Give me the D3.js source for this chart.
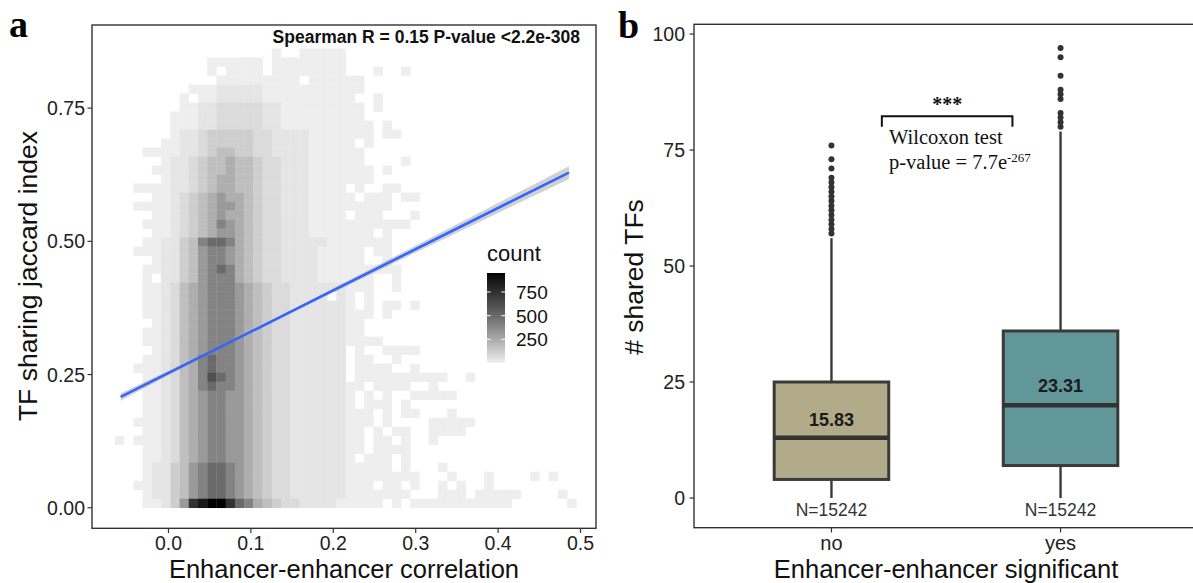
<!DOCTYPE html>
<html><head><meta charset="utf-8">
<script src="https://cdn.jsdelivr.net/npm/d3@7"></script>
<style>body{margin:0;background:#fff} svg{display:block}</style>
</head><body><svg id="c" width="1193" height="583"></svg>
<script>
// ---------- Panel a data: 2D bin counts (rows top -> bottom, 50 columns each) ----------
const countLevels = {".":0,"0":8,"1":38,"2":75,"3":120,"4":175,"5":240,"6":315,"7":400,"8":500,"9":610,"a":740,"b":860,"c":950};
const binRows = [
".......... .......0.. 00000..... .......... ..........",
".......... 000000.000 00000..... .......... ..........",
".......... 0.0000.000 00000...0. .0........ ..........",
".......... .000000000 .000000... .......... ..........",
"........00 0111110000 0000000... .......... ..........",
".......0.0 0111110000 000000..0. .......... ..........",
".......001 1222221100 0000000.0. .......... ..........",
"......0001 1222221100 0000000... .......... ..........",
"......0001 1222221100 00000000.0 .......... ..........",
"......0112 3333322111 10000000.0 0......... ..........",
".....00112 3333322111 100000.0.. .......... ..........",
"...0000112 3443322111 1000000... .......... ..........",
".....01123 4454432211 1000000... .0........ ..........",
"....001123 4454432211 10000000.0 .......... ..........",
".....01123 4554432211 10000000.. .......... ..........",
"..00001123 4554432211 10000.0..0 0......... ..........",
"....001234 5655432211 100000.000 .00....... ..........",
"..00001234 5665432211 1000000000 .......... ..........",
"....001234 5655432211 10000.000. ..0....... ..........",
"...0001234 5765432211 1000000000 00........ ..........",
"....001234 5665432211 10000000.0 .......... ..........",
"...0011347 8875432211 1110000000 .......... ..........",
"..00011346 7765432211 1100000.00 .......... ..........",
"....011346 7765432211 1100000..0 .......... ..........",
"...0011346 7875432211 1100000000 0......... ..........",
"...0.11346 7775432211 11000000.. 0......... ..........",
"...0012456 7776543221 11111000.. 0......... ..........",
"...0012456 7776543221 111.10.0.. .......... ..........",
"...0012456 7776543221 111110.0.0 0.0....... ..........",
"...0012456 7776543221 11111000.0 .......... ..........",
"....012456 7776543221 1111100... .......... ..........",
"...0012456 7776543221 1111100... .......... ..........",
"...0012456 7776543221 111110000. .......... ..........",
"....012456 7776543221 11111.0..0 000....... ..........",
"...0012457 8776543221 11111.00.. 0......... ..........",
"..00012457 8776543221 11111.0000 ..0....... ..........",
"...0012457 9876543221 11111.0000 000000..0. ..........",
"...0012457 8776543221 1111100.00 00..0..... ..........",
"...0012456 7766543221 111110.0.0 ..00000... ..........",
"...0012456 7766543221 111110.000 .0........ ..........",
"...0012456 7766543221 11111000.0 .00...0... ..........",
"..00012456 7766543221 11111000.0 ....00000. ..........",
"...0012456 7766543221 1111100.0. 00..0000.. ..........",
"0.00012456 7766543221 1111100.00 .0..0..... ..........",
"...0012456 7766543221 1111100.00 00........ ..........",
"...0012456 7766543221 111110.000 .0........ ..........",
"...0113467 8876543221 1111100000 .0...0.... ..........",
"...0113467 8876543221 1111100000 000...0... 0....0.0..",
"..00113467 8876543221 11111000.0 0.0..0.0.. 0.........",
"...0113467 8876543221 1111100000 00...000.0 0000....0.",
"...00136ab cca8754322 111100000. 0.00000000 000......0"
];
const binX0 = -0.065, binW = 0.0112, binY0 = 0, binH = 0.0169;
const countMin = 1, countMax = 950;
const legendTicks = [250, 500, 750];
const xTicksA = [0, 0.1, 0.2, 0.3, 0.4, 0.5];
const yTicksA = [0, 0.25, 0.5, 0.75];
// fitted line (lm) with its confidence band
const smoothX  = [-0.058, 0.07, 0.2, 0.35, 0.486];
const smoothY  = [0.208, 0.307, 0.408, 0.524, 0.629];
const smoothSE = [0.007, 0.002, 0.004, 0.008, 0.012];
const statText = "Spearman R = 0.15 P-value <2.2e-308";

// ---------- Panel b data ----------
const groups = ["no", "yes"];
const q1 = [4, 7], median = [13, 20], q3 = [25, 36];
const whiskLo = [0, 0], whiskHi = [56, 79];
const means = [15.83, 23.31];
const nLabels = ["N=15242", "N=15242"];
const outliersNo = [57,58,59,60,61,62,63,64,65,66,67,68,69,71,73,76];
const outliersYes = [80,81,82,83,86,87,88,91,95,97];
const boxFill = ["#b1ab89", "#629799"];
const yTicksB = [0, 25, 50, 75, 100];
const bracket = {x1: 1.22, x2: 1.79, y: 82.3, yEnd: 80};

// ---------- drawing ----------
const svg = d3.select("#c");
const SANS = "'Liberation Sans', Arial, sans-serif";
const SERIF = "'Liberation Serif', 'Times New Roman', serif";
const axisCol = "#333333";
const TICK_FS = "19.5px", TITLE_FS = "25.5px";
const TICK_BASE = 549.5, TITLE_BASE = 577.5;

// Panel a scales
const xA = d3.scaleLinear().domain([-0.0928, 0.5188]).range([92, 596]);
const yA = d3.scaleLinear().domain([-0.0386, 0.906]).range([528.3, 25]);
const fillScale = d3.scaleLinear().domain([countMin, countMax]).range(["#f0f0f0", "#000000"]).interpolate(d3.interpolateLab).clamp(true);

const cells = [];
binRows.forEach((row, ri) => {
  const s = row.replace(/ /g, "");
  const j = binRows.length - 1 - ri;
  for (let i = 0; i < s.length; i++) {
    const c = countLevels[s[i]];
    if (c > 0) cells.push({i, j, c});
  }
});
const gA = svg.append("g");
gA.selectAll("rect.bin").data(cells).join("rect")
  .attr("x", d => xA(binX0 + d.i * binW))
  .attr("y", d => yA(binY0 + (d.j + 1) * binH))
  .attr("width", d => xA(binX0 + (d.i + 1) * binW) - xA(binX0 + d.i * binW) + 0.3)
  .attr("height", d => yA(binY0 + d.j * binH) - yA(binY0 + (d.j + 1) * binH) + 0.3)
  .attr("fill", d => fillScale(d.c));

const sm = smoothX.map((x, k) => ({x, y: smoothY[k], se: smoothSE[k]}));
gA.append("path").datum(sm)
  .attr("d", d3.area().x(d => xA(d.x)).y0(d => yA(d.y - d.se)).y1(d => yA(d.y + d.se)).curve(d3.curveNatural))
  .attr("fill", "#999999").attr("opacity", 0.45);
gA.append("path").datum(sm)
  .attr("d", d3.line().x(d => xA(d.x)).y(d => yA(d.y)))
  .attr("fill", "none").attr("stroke", "#3366ff").attr("stroke-width", 2.6);

// frame
gA.append("rect").attr("x", 92).attr("y", 25).attr("width", 504).attr("height", 503.3)
  .attr("fill", "none").attr("stroke", axisCol).attr("stroke-width", 1.4);

// axes a
const axA = svg.append("g").attr("font-family", SANS).attr("fill", "#222");
xTicksA.forEach(t => {
  axA.append("line").attr("x1", xA(t)).attr("x2", xA(t)).attr("y1", 528.3).attr("y2", 533).attr("stroke", axisCol).attr("stroke-width", 1.2);
  axA.append("text").attr("x", xA(t)).attr("y", TICK_BASE).attr("text-anchor", "middle").attr("font-size", TICK_FS).attr("fill", "#222").text(d3.format(".1f")(t));
});
yTicksA.forEach(t => {
  axA.append("line").attr("x1", 87.5).attr("x2", 92).attr("y1", yA(t)).attr("y2", yA(t)).attr("stroke", axisCol).attr("stroke-width", 1.2);
  axA.append("text").attr("x", 85).attr("y", yA(t)).attr("dy", "0.36em").attr("text-anchor", "end").attr("font-size", TICK_FS).attr("fill", "#222").text(d3.format(".2f")(t));
});
axA.append("text").attr("x", 344).attr("y", TITLE_BASE).attr("text-anchor", "middle").attr("font-size", TITLE_FS).attr("fill", "#111").text("Enhancer-enhancer correlation");
axA.append("text").attr("transform", "translate(37,276) rotate(-90)").attr("text-anchor", "middle").attr("font-size", "26.5px").attr("fill", "#111").text("TF sharing jaccard index");
svg.append("text").attr("x", 580).attr("y", 43.3).attr("text-anchor", "end").attr("font-family", SANS).attr("font-weight", "bold").attr("font-size", "17.5px").attr("fill", "#111").text(statText);

// legend
const legY = d3.scaleLinear().domain([countMin, countMax]).range([363, 273]);
const defs = svg.append("defs");
const grad = defs.append("linearGradient").attr("id", "lg").attr("x1", 0).attr("y1", 1).attr("x2", 0).attr("y2", 0);
d3.range(0, 1.0001, 0.1).forEach(t => grad.append("stop").attr("offset", t).attr("stop-color", fillScale(countMin + t * (countMax - countMin))));
svg.append("rect").attr("x", 487).attr("y", legY(countMax)).attr("width", 18).attr("height", legY(countMin) - legY(countMax)).attr("fill", "url(#lg)");
legendTicks.forEach(t => {
  svg.append("line").attr("x1", 487).attr("x2", 490.6).attr("y1", legY(t)).attr("y2", legY(t)).attr("stroke", "#fff").attr("stroke-width", 1);
  svg.append("line").attr("x1", 501.4).attr("x2", 505).attr("y1", legY(t)).attr("y2", legY(t)).attr("stroke", "#fff").attr("stroke-width", 1);
  svg.append("text").attr("x", 516).attr("y", legY(t)).attr("dy", "0.36em").attr("font-family", SANS).attr("font-size", "19px").attr("fill", "#111").text(t);
});
svg.append("text").attr("x", 487).attr("y", 261).attr("font-family", SANS).attr("font-size", "22px").attr("fill", "#111").text("count");

// panel letters
svg.append("text").attr("x", 9).attr("y", 37).attr("font-family", SERIF).attr("font-weight", "bold").attr("font-size", "38px").attr("fill", "#000").text("a");
svg.append("text").attr("x", 618).attr("y", 38).attr("font-family", SERIF).attr("font-weight", "bold").attr("font-size", "38px").attr("fill", "#000").text("b");

// ---------- Panel b ----------
const xB = d3.scaleLinear().domain([0.4, 2.6]).range([694, 1198]);
const yB = d3.scaleLinear().domain([-6.4, 102.1]).range([527.7, 24.3]);
const gB = svg.append("g");
const boxHalf = 0.25;
groups.forEach((g, k) => {
  const cx = xB(k + 1);
  gB.append("line").attr("x1", cx).attr("x2", cx).attr("y1", yB(q3[k])).attr("y2", yB(whiskHi[k])).attr("stroke", "#3a3a3a").attr("stroke-width", 2.4);
  gB.append("line").attr("x1", cx).attr("x2", cx).attr("y1", yB(q1[k])).attr("y2", yB(whiskLo[k])).attr("stroke", "#3a3a3a").attr("stroke-width", 2.4);
  gB.append("rect").attr("x", xB(k + 1 - boxHalf)).attr("y", yB(q3[k]))
    .attr("width", xB(k + 1 + boxHalf) - xB(k + 1 - boxHalf)).attr("height", yB(q1[k]) - yB(q3[k]))
    .attr("fill", boxFill[k]).attr("stroke", "#3a3a3a").attr("stroke-width", 3);
  gB.append("line").attr("x1", xB(k + 1 - boxHalf)).attr("x2", xB(k + 1 + boxHalf)).attr("y1", yB(median[k])).attr("y2", yB(median[k])).attr("stroke", "#333").attr("stroke-width", 4.5);
  const outs = k === 0 ? outliersNo : outliersYes;
  gB.selectAll(null).data(outs).join("circle").attr("cx", cx).attr("cy", d => yB(d)).attr("r", 3).attr("fill", "#333");
  gB.append("text").attr("x", cx).attr("y", yB(means[k])).attr("dy", "0.1em").attr("text-anchor", "middle")
    .attr("font-family", SANS).attr("font-weight", "bold").attr("font-size", "18px").attr("fill", "#1a1a1a").text(means[k].toFixed(2));
  gB.append("text").attr("x", cx).attr("y", yB(-2.6)).attr("dy", "0.36em").attr("text-anchor", "middle")
    .attr("font-family", SANS).attr("font-size", "17.5px").attr("fill", "#333").text(nLabels[k]);
  gB.append("line").attr("x1", cx).attr("x2", cx).attr("y1", 527.7).attr("y2", 532.5).attr("stroke", axisCol).attr("stroke-width", 1.2);
  gB.append("text").attr("x", cx).attr("y", TICK_BASE).attr("text-anchor", "middle").attr("font-family", SANS).attr("font-size", "20px").attr("fill", "#222").text(g);
});
// frame b
gB.append("rect").attr("x", 694).attr("y", 24.3).attr("width", 504).attr("height", 503.4)
  .attr("fill", "none").attr("stroke", axisCol).attr("stroke-width", 1.4);
yTicksB.forEach(t => {
  gB.append("line").attr("x1", 689.5).attr("x2", 694).attr("y1", yB(t)).attr("y2", yB(t)).attr("stroke", axisCol).attr("stroke-width", 1.2);
  gB.append("text").attr("x", 685).attr("y", yB(t)).attr("dy", "0.36em").attr("text-anchor", "end").attr("font-family", SANS).attr("font-size", TICK_FS).attr("fill", "#222").text(t);
});
gB.append("text").attr("x", 946).attr("y", TITLE_BASE).attr("text-anchor", "middle").attr("font-family", SANS).attr("font-size", TITLE_FS).attr("fill", "#111").text("Enhancer-enhancer significant");
gB.append("text").attr("transform", "translate(643,277) rotate(-90)").attr("text-anchor", "middle").attr("font-family", SANS).attr("font-size", "26.5px").attr("fill", "#111").text("# shared TFs");

// significance bracket
gB.append("path")
  .attr("d", `M${xB(bracket.x1)},${yB(bracket.yEnd)} L${xB(bracket.x1)},${yB(bracket.y)} L${xB(bracket.x2)},${yB(bracket.y)} L${xB(bracket.x2)},${yB(bracket.yEnd)}`)
  .attr("fill", "none").attr("stroke", "#111").attr("stroke-width", 2);
gB.append("text").attr("x", (xB(bracket.x1) + xB(bracket.x2)) / 2).attr("y", 111).attr("text-anchor", "middle")
  .attr("font-family", SERIF).attr("font-weight", "bold").attr("font-size", "20px").attr("fill", "#111").text("***");
gB.append("text").attr("x", 889).attr("y", 144).attr("font-family", SERIF).attr("font-size", "20.5px").attr("fill", "#111").text("Wilcoxon test");
const pv = gB.append("text").attr("x", 889).attr("y", 168.5).attr("font-family", SERIF).attr("font-size", "20.5px").attr("fill", "#111");
pv.append("tspan").text("p-value = 7.7e");
pv.append("tspan").attr("dy", "-7").attr("font-size", "13px").text("-267");
</script>
</body></html>
